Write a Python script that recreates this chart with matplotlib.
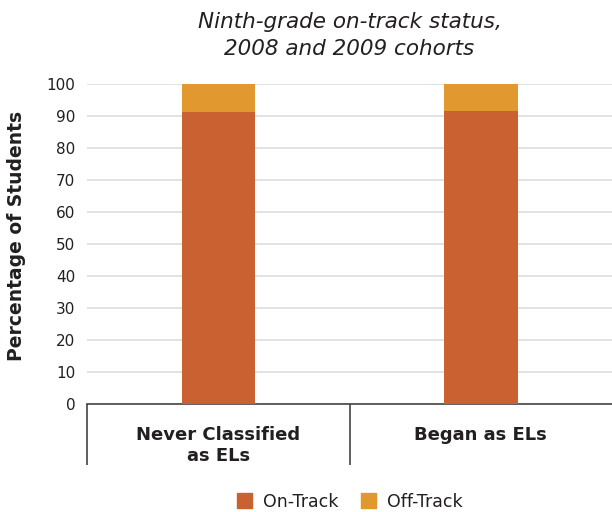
import matplotlib
matplotlib.use("Agg")
import matplotlib.pyplot as plt
from matplotlib.patches import Patch
import numpy as np

categories = ["Never Classified\nas ELs", "Began as ELs"]
on_track = [91.2, 91.6]
off_track = [8.8, 8.4]
yticks = [0, 10, 20, 30, 40, 50, 60, 70, 80, 90, 100]

plt.rcParams['font.family'] = ['DejaVu Sans']

c_on = "#C96130"
c_off = "#E1982F"
txt = "#231F20"

fig = plt.figure(figsize=(6.12, 5.12), dpi=100)
ax = fig.add_axes([87/612, 1-404/512, (612-87)/612, 320/512])

x = np.arange(len(categories))
ax.bar(x, on_track, width=0.28, color=c_on, zorder=3, label="On-Track")
ax.bar(x, off_track, width=0.28, bottom=on_track, color=c_off, zorder=3, label="Off-Track")

ax.set_xlim(-0.5, 1.5)
ax.set_ylim(0, 100)
ax.set_yticks(yticks)
ax.set_yticklabels([str(v) for v in yticks], fontsize=11, color=txt)
ax.tick_params(axis='y', length=0, pad=8.5)
ax.yaxis.grid(True, color="#DDDDDD", linewidth=1.2, zorder=0)
ax.set_axisbelow(True)

ax.set_xticks(x)
ax.set_xticklabels(categories, fontsize=13, fontweight='bold', color=txt, linespacing=1.2)
ax.tick_params(axis='x', length=0, pad=16)
ax.set_xticks([-0.5, 0.5], minor=True)
ax.tick_params(axis='x', which='minor', length=44, width=1.2, color="#444444", direction='out')

for s in ['top', 'right', 'left']:
    ax.spines[s].set_visible(False)
ax.spines['bottom'].set_color("#444444")
ax.spines['bottom'].set_linewidth(1.2)

ax.set_ylabel("Percentage of Students", fontsize=13.5, fontweight='bold', color=txt)
ax.yaxis.set_label_coords(-61/525, 0.5 + 8/320)
ax.set_title("Ninth-grade on-track status,\n2008 and 2009 cohorts", fontsize=15.5, style='italic',
             color=txt, pad=21, linespacing=1.45)

handles = [Patch(color=c_on, label="On-Track"), Patch(color=c_off, label="Off-Track")]
ax.legend(handles=handles, loc='center', bbox_to_anchor=(0.5, -0.305), ncol=2, frameon=False,
          fontsize=12.5, handlelength=0.9, handleheight=0.9, columnspacing=1.3, handletextpad=0.6,
          labelcolor=txt)

fig.savefig("out.png", dpi=100)
